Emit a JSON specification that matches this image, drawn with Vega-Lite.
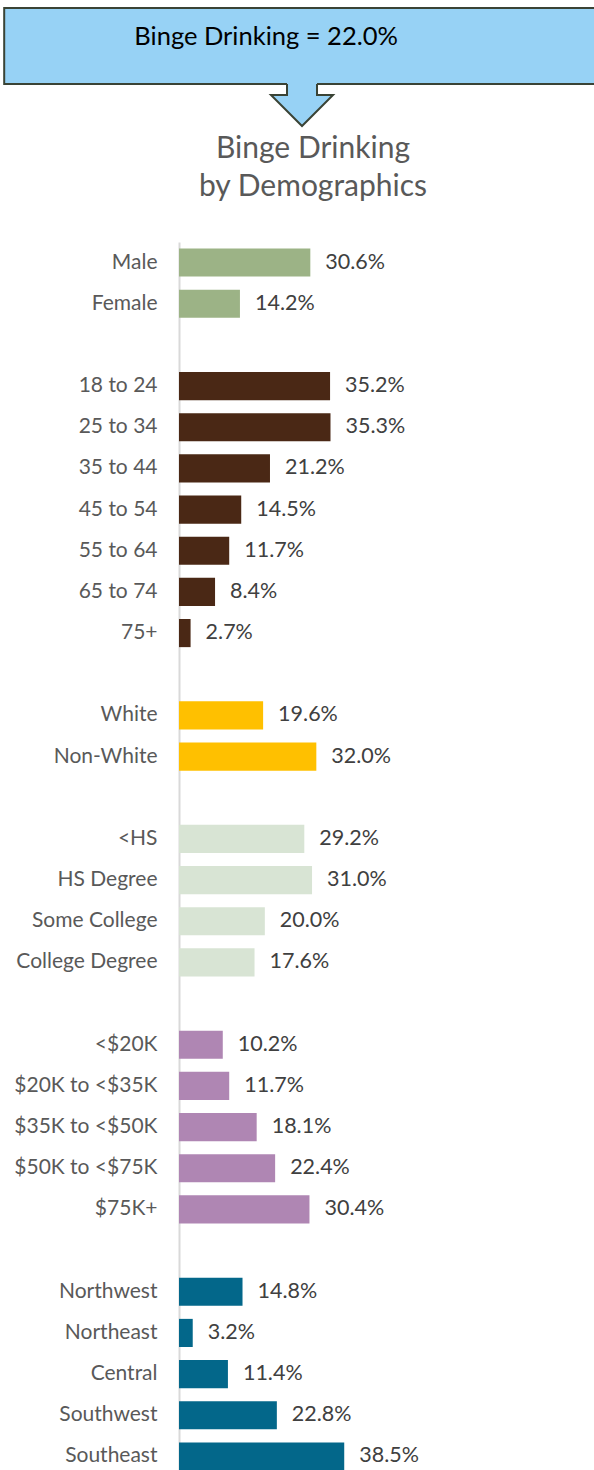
{
  "$schema": "https://vega.github.io/schema/vega-lite/v6.json",
  "padding": 0,
  "spacing": 4,
  "background": "white",
  "config": {"view": {"stroke": null}, "font": "Lato"},
  "vconcat": [
    {
      "width": 415,
      "height": 126,
      "data": {"values": [{"headline": "Binge Drinking = 22.0%"}]},
      "layer": [
        {
          "mark": {"type": "rect", "fill": "#97D2F5", "stroke": "#3A4335", "strokeWidth": 2},
          "encoding": {
            "x": {"datum": 0.7, "type": "quantitative", "scale": {"domain": [30.13, 100], "nice": false, "zero": false}, "axis": null},
            "x2": {"datum": 100.5},
            "y": {"datum": 6.3, "type": "quantitative", "scale": {"domain": [0, 100], "reverse": true, "nice": false}, "axis": null},
            "y2": {"datum": 66.7}
          }
        },
        {
          "mark": {"type": "point", "shape": "M -0.484 -0.74 L 0.484 -0.74 L 0.484 -0.323 L 1 -0.323 L 0 0.677 L -1 -0.323 L -0.484 -0.323 Z", "size": 3844, "filled": true, "fill": "#97D2F5", "strokeWidth": 0, "opacity": 1},
          "encoding": {
            "x": {"datum": 50.84, "type": "quantitative"},
            "y": {"datum": 83.33, "type": "quantitative"}
          }
        },
        {
          "mark": {"type": "point", "shape": "M -0.484 -0.677 L -0.484 -0.323 L -1 -0.323 L 0 0.677 L 1 -0.323 L 0.484 -0.323 L 0.484 -0.677", "size": 3844, "filled": false, "stroke": "#3A4335", "strokeWidth": 2, "opacity": 1},
          "encoding": {
            "x": {"datum": 50.84, "type": "quantitative"},
            "y": {"datum": 83.33, "type": "quantitative"}
          }
        },
        {
          "mark": {"type": "text", "fontSize": 25.5, "align": "center", "baseline": "alphabetic", "color": "#000000"},
          "encoding": {
            "x": {"datum": 44.8, "type": "quantitative"},
            "y": {"datum": 35.7, "type": "quantitative"},
            "text": {"field": "headline"}
          }
        }
      ]
    },
    {
      "width": 415,
      "height": 1235,
      "title": {
        "text": ["Binge Drinking", "by Demographics"],
        "fontSize": 30,
        "lineHeight": 38,
        "fontWeight": "normal",
        "color": "#595959",
        "anchor": "middle",
        "frame": "bounds",
        "dx": 16,
        "offset": 40
      },
      "data": {
        "values": [
          {"category": "Male", "group": "Gender", "pct": 0.306},
          {"category": "Female", "group": "Gender", "pct": 0.142},
          {"category": "18 to 24", "group": "Age", "pct": 0.352},
          {"category": "25 to 34", "group": "Age", "pct": 0.353},
          {"category": "35 to 44", "group": "Age", "pct": 0.212},
          {"category": "45 to 54", "group": "Age", "pct": 0.145},
          {"category": "55 to 64", "group": "Age", "pct": 0.117},
          {"category": "65 to 74", "group": "Age", "pct": 0.084},
          {"category": "75+", "group": "Age", "pct": 0.027},
          {"category": "White", "group": "Race", "pct": 0.196},
          {"category": "Non-White", "group": "Race", "pct": 0.320},
          {"category": "<HS", "group": "Education", "pct": 0.292},
          {"category": "HS Degree", "group": "Education", "pct": 0.310},
          {"category": "Some College", "group": "Education", "pct": 0.200},
          {"category": "College Degree", "group": "Education", "pct": 0.176},
          {"category": "<$20K", "group": "Income", "pct": 0.102},
          {"category": "$20K to <$35K", "group": "Income", "pct": 0.117},
          {"category": "$35K to <$50K", "group": "Income", "pct": 0.181},
          {"category": "$50K to <$75K", "group": "Income", "pct": 0.224},
          {"category": "$75K+", "group": "Income", "pct": 0.304},
          {"category": "Northwest", "group": "Region", "pct": 0.148},
          {"category": "Northeast", "group": "Region", "pct": 0.032},
          {"category": "Central", "group": "Region", "pct": 0.114},
          {"category": "Southwest", "group": "Region", "pct": 0.228},
          {"category": "Southeast", "group": "Region", "pct": 0.385}
        ]
      },
      "encoding": {
        "y": {
          "field": "category",
          "type": "nominal",
          "scale": {
            "domain": ["Male", "Female", "gap1", "18 to 24", "25 to 34", "35 to 44", "45 to 54", "55 to 64", "65 to 74", "75+", "gap2", "White", "Non-White", "gap3", "<HS", "HS Degree", "Some College", "College Degree", "gap4", "<$20K", "$20K to <$35K", "$35K to <$50K", "$50K to <$75K", "$75K+", "gap5", "Northwest", "Northeast", "Central", "Southwest", "Southeast"],
            "paddingInner": 0.317,
            "paddingOuter": 0.158
          },
          "axis": {
            "title": null,
            "ticks": false,
            "tickSize": 0,
            "grid": false,
            "labelPadding": 22,
            "labelFontSize": 21,
            "labelColor": "#595959",
            "labelLimit": 300,
            "domainColor": "#D9D9D9",
            "domainWidth": 2,
            "minExtent": 179,
            "labelExpr": "indexof(datum.value, 'gap') == 0 ? '' : datum.value"
          }
        },
        "x": {"field": "pct", "type": "quantitative", "scale": {"domain": [0, 0.967], "nice": false}, "axis": null}
      },
      "layer": [
        {
          "mark": {"type": "bar"},
          "encoding": {
            "color": {
              "field": "group",
              "type": "nominal",
              "scale": {
                "domain": ["Gender", "Age", "Race", "Education", "Income", "Region"],
                "range": ["#9CB386", "#4A2815", "#FFC000", "#D8E4D4", "#AF86B3", "#03678A"]
              },
              "legend": null
            }
          }
        },
        {
          "mark": {"type": "text", "align": "left", "baseline": "middle", "dx": 15, "fontSize": 21.5, "color": "#404040"},
          "encoding": {"text": {"field": "pct", "type": "quantitative", "format": ".1%"}}
        }
      ]
    }
  ]
}
